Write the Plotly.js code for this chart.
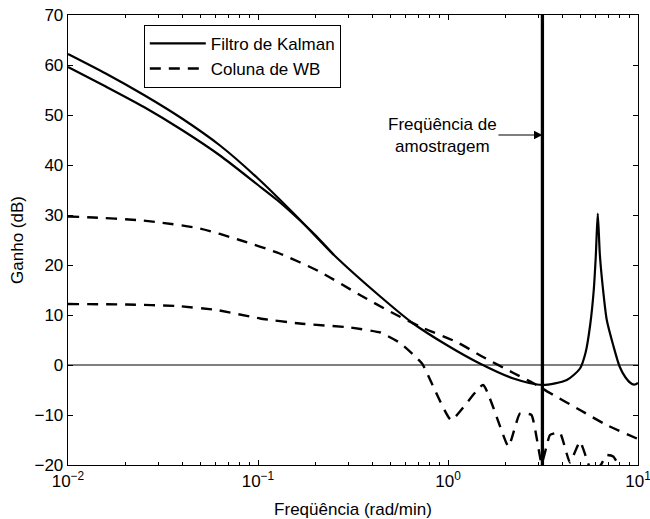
<!DOCTYPE html>
<html>
<head>
<meta charset="utf-8">
<script src="https://cdn.plot.ly/plotly-3.0.1.min.js"></script>
<style>html,body{margin:0;padding:0;background:#fff;}#chart{width:650px;height:519px;}</style>
</head>
<body>
<div id="chart"></div>
<script>
// Kalman filter gain (upper branch, continues past the sampling frequency)
const kalmanAX = [0.01, 0.0158, 0.0251, 0.0398, 0.0631, 0.1, 0.158, 0.251, 0.44, 0.656, 0.984, 1.47, 2.21, 3.14, 4.22, 4.95, 5.3, 5.6, 5.85, 6.0, 6.14, 6.3, 6.55, 6.85, 7.4, 8.0, 8.6, 9.3, 9.64, 10];
const kalmanAY = [62.2, 58.3, 54.0, 49.3, 43.9, 37.3, 29.9, 22.0, 13.7, 8.3, 4.0, 0.3, -2.7, -4.0, -3.0, -0.7, 2.5, 8.0, 15.0, 22.0, 30.3, 22.0, 15.0, 9.0, 4.0, -0.3, -2.5, -3.8, -3.9, -3.6];
// Kalman filter gain (lower branch, merges with the upper one)
const kalmanBX = [0.01, 0.0158, 0.0251, 0.0398, 0.0631, 0.1, 0.126, 0.158, 0.2, 0.251];
const kalmanBY = [59.6, 55.7, 51.6, 47.0, 41.9, 36.0, 33.0, 29.7, 26.0, 22.0];
// WB column (upper dashed)
const wb1X = [0.01, 0.0136, 0.023, 0.0305, 0.0495, 0.08, 0.13, 0.21, 0.344, 0.5, 0.74, 1.11, 1.53, 2.21, 2.8, 3.44, 4.95, 6.84, 10];
const wb1Y = [29.7, 29.5, 29.0, 28.5, 27.3, 25.0, 22.3, 18.7, 14.0, 10.6, 7.4, 4.6, 1.6, -1.6, -3.6, -5.6, -9.0, -12.0, -14.8];
// WB column (lower dashed)
const wb2X = [0.01, 0.0204, 0.0373, 0.0607, 0.1026, 0.166, 0.305, 0.44, 0.56, 0.73, 1.04, 1.53, 2.08, 2.39, 2.75, 3.11, 3.3, 3.44, 3.88, 4.38, 4.95, 5.47, 5.8, 6.44, 6.84, 7.41, 8.03, 9.0, 10];
const wb2Y = [12.2, 12.1, 11.8, 11.0, 9.3, 8.3, 7.5, 6.5, 4.4, 0.3, -11.0, -4.0, -16.3, -9.7, -10.0, -19.7, -16.3, -14.0, -13.5, -19.5, -15.3, -19.7, -22.0, -19.7, -18.0, -18.3, -20.5, -25.0, -25.0];
// Sampling frequency marker
const samplingFreq = [3.14];
const markerY = [-20, 70];
const arrowY = 46;
const xTickVals = [0.01, 0.1, 1, 10];
const xTickText = ['10<sup>\u22122</sup>', '10<sup>\u22121</sup>', '10<sup>0</sup>', '10<sup>1</sup>'];
const xMinorVals = [0.02,0.03,0.04,0.05,0.06,0.07,0.08,0.09,0.2,0.3,0.4,0.5,0.6,0.7,0.8,0.9,2,3,4,5,6,7,8,9];
const legendNames = ['Filtro de Kalman', 'Coluna de WB'];

const font = {family: 'Liberation Sans, Arial, sans-serif', size: 17, color: '#000'};
const solid = {color: '#000', width: 2.2, shape: 'spline', smoothing: 0.7};
const dashed = {color: '#000', width: 2.4, dash: '11px,8px', shape: 'spline', smoothing: 0.7};
const dashedJag = {color: '#000', width: 2.4, dash: '11px,8px', shape: 'spline', smoothing: 0.4};

const traces = [
  {x: kalmanAX, y: kalmanAY, mode: 'lines', line: solid, name: legendNames[0]},
  {x: wb1X, y: wb1Y, mode: 'lines', line: dashed, name: legendNames[1]},
  {x: kalmanBX, y: kalmanBY, mode: 'lines', line: solid, showlegend: false},
  {x: wb2X, y: wb2Y, mode: 'lines', line: dashedJag, showlegend: false},
  {x: [samplingFreq[0], samplingFreq[0]], y: markerY, mode: 'lines', line: {color: '#000', width: 3.3}, showlegend: false}
];

const layout = {
  width: 650, height: 519,
  margin: {l: 68, r: 12, t: 15, b: 54},
  paper_bgcolor: '#fff', plot_bgcolor: '#fff',
  font: font,
  showlegend: true,
  legend: {x: 0.133, y: 0.978, xanchor: 'left', yanchor: 'top', bgcolor: '#fff', bordercolor: '#000', borderwidth: 1, font: font, tracegroupgap: 0, itemwidth: 56},
  xaxis: {
    type: 'log', range: [-2, 1],
    tickvals: xTickVals, ticktext: xTickText, ticklabeloverflow: 'allow',
    ticks: 'inside', ticklen: 5, tickcolor: '#000', tickwidth: 1,
    showline: true, linecolor: '#000', linewidth: 1.3, mirror: 'ticks',
    showgrid: false, zeroline: false,
    minor: {tickmode: 'array', tickvals: xMinorVals, ticks: 'inside', ticklen: 3, tickcolor: '#000', tickwidth: 1, showgrid: false},
    tickfont: font,
    title: {text: 'Freqüência (rad/min)', font: font, standoff: 13}
  },
  yaxis: {
    range: [-20, 70], dtick: 10,
    ticks: 'inside', ticklen: 5, tickcolor: '#000', tickwidth: 1,
    showline: true, linecolor: '#000', linewidth: 1.3, mirror: 'ticks',
    showgrid: false, zeroline: true, zerolinecolor: '#808080', zerolinewidth: 1.2,
    tickfont: font,
    title: {text: 'Ganho (dB)', font: font, standoff: 6}
  },
  annotations: [{
    x: Math.log10(samplingFreq[0]), y: arrowY, xref: 'x', yref: 'y',
    text: 'Freqüência de<br>amostragem', showarrow: true,
    ax: -100, ay: 0, arrowhead: 2, arrowsize: 1.4, arrowwidth: 1.2, arrowcolor: '#000',
    font: font, align: 'center'
  }]
};

Plotly.newPlot('chart', traces, layout, {staticPlot: true, displayModeBar: false});
</script>
</body>
</html>
